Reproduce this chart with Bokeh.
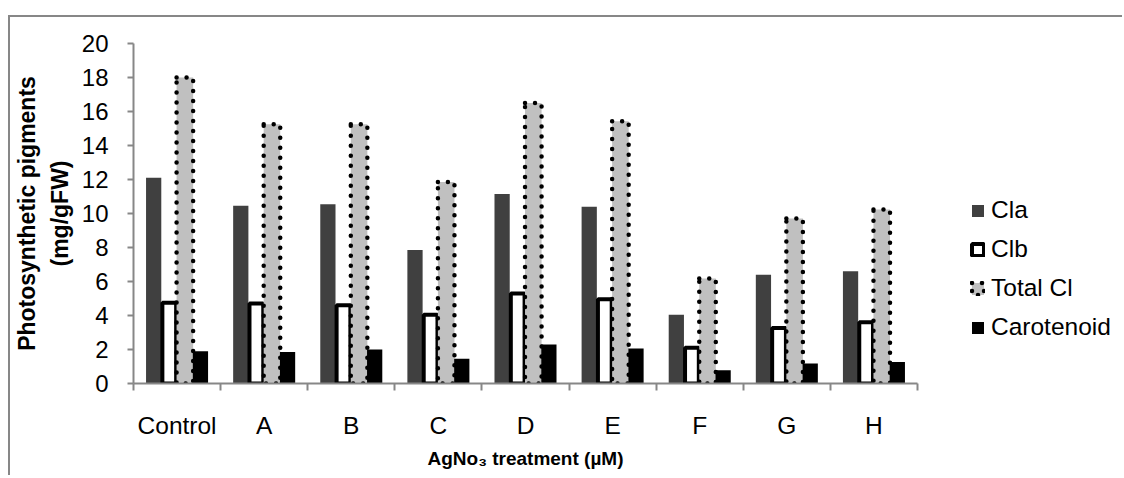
import numpy as np
from bokeh.plotting import figure
from bokeh.models import (FixedTicker, Legend, LegendItem, ColumnDataSource,
                          Range1d, Title)
from bokeh.embed import file_html
from bokeh.resources import INLINE

# ---- data ----
categories = ["Control", "A", "B", "C", "D", "E", "F", "G", "H"]
cla = [12.1, 10.45, 10.55, 7.85, 11.15, 10.4, 4.05, 6.4, 6.6]
clb = [4.75, 4.7, 4.6, 4.05, 5.3, 4.95, 2.1, 3.27, 3.6]
total_cl = [18.0, 15.25, 15.25, 11.86, 16.5, 15.43, 6.18, 9.7, 10.24]
carotenoid = [1.9, 1.86, 2.0, 1.46, 2.29, 2.06, 0.78, 1.18, 1.27]
series_names = ["Cla", "Clb", "Total Cl", "Carotenoid"]
y_ticks = [0, 2, 4, 6, 8, 10, 12, 14, 16, 18, 20]

FONT = "Liberation Sans"
AXIS_COLOR = "#878787"

n = len(categories)
centers = np.arange(n) + 0.5
bounds = list(np.arange(n + 1).astype(float))
step = 0.179

FIG_W = 1114
LEFT = 123
AXIS_PX = 784            # pixel length of the category axis
frame_w = FIG_W - LEFT
x_end = n * frame_w / AXIS_PX   # extra room on the right holds the legend

p = figure(width=FIG_W, height=460,
           x_range=Range1d(0, x_end), y_range=Range1d(0, 20),
           output_backend="svg", toolbar_location=None,
           min_border_left=LEFT, min_border_right=0,
           min_border_top=26, min_border_bottom=94)
p.margin = (15, 0, 0, 8)
p.styles = {"border-top": "2px solid #878787", "border-left": "2px solid #878787"}
p.outline_line_color = None
p.xgrid.visible = False
p.ygrid.visible = False
p.background_fill_color = "white"
p.border_fill_color = "white"

def src(vals, k):
    return ColumnDataSource(dict(x=centers + (k - 1.5) * step, top=vals))

r1 = p.vbar(x="x", top="top", bottom=0, width=0.175, source=src(cla, 0),
            fill_color="#404040", line_color=None)
r2 = p.vbar(x="x", top="top", bottom=0, width=0.158, source=src(clb, 1),
            fill_color="white", line_color="black", line_width=4)
r3 = p.vbar(x="x", top="top", bottom=0, width=0.19, source=src(total_cl, 2),
            fill_color="#c0c0c0", line_color="black", line_width=4.5,
            line_dash="0 10", line_cap="round")
r4 = p.vbar(x="x", top="top", bottom=0, width=0.175, source=src(carotenoid, 3),
            fill_color="black", line_color=None)

# x axis
xa = p.xaxis[0]
xa.bounds = (0, n)
xa.ticker = FixedTicker(ticks=list(centers), minor_ticks=bounds)
xa.major_label_overrides = {float(c): lab for c, lab in zip(centers, categories)}
xa.major_tick_out = 0
xa.major_tick_in = 0
xa.minor_tick_out = 7
xa.minor_tick_in = 0
xa.minor_tick_line_color = AXIS_COLOR
xa.minor_tick_line_width = 2
xa.axis_line_color = AXIS_COLOR
xa.axis_line_width = 2
xa.major_label_text_font = FONT
xa.major_label_text_font_size = "24.5px"
xa.major_label_text_color = "black"
xa.major_label_standoff = 21

xtitle = Title(text="AgNo\u2083 treatment (\u00b5M)", align="left", offset=294,
               text_font=FONT, text_font_style="bold", text_font_size="19px",
               text_color="black", standoff=8)
p.add_layout(xtitle, "below")

# y axis
ya = p.yaxis[0]
ya.ticker = FixedTicker(ticks=y_ticks)
ya.major_tick_out = 6
ya.major_tick_in = 0
ya.minor_tick_out = 0
ya.minor_tick_in = 0
ya.major_tick_line_color = AXIS_COLOR
ya.major_tick_line_width = 2
ya.axis_line_color = AXIS_COLOR
ya.axis_line_width = 2
ya.major_label_text_font = FONT
ya.major_label_text_font_size = "24px"
ya.major_label_text_color = "black"
ya.major_label_standoff = 19
ya.axis_label = "Photosynthetic pigments\n(mg/gFW)"
ya.axis_label_text_font = FONT
ya.axis_label_text_font_style = "bold"
ya.axis_label_text_font_size = "23px"
ya.axis_label_text_color = "black"
ya.axis_label_text_line_height = 1.25
ya.axis_label_standoff = 6

legend = Legend(items=[LegendItem(label=nm, renderers=[r]) for nm, r in
                       zip(series_names, [r1, r2, r3, r4])],
                location=(837, 42), orientation="vertical")
legend.label_text_font = FONT
legend.label_text_font_size = "24.5px"
legend.label_text_color = "black"
legend.glyph_width = 15
legend.glyph_height = 15
legend.label_standoff = 6
legend.spacing = 11
legend.padding = 0
legend.margin = 0
legend.border_line_color = None
legend.background_fill_alpha = 0
p.add_layout(legend, "center")

open("out.html", "w").write(file_html(p, INLINE))
